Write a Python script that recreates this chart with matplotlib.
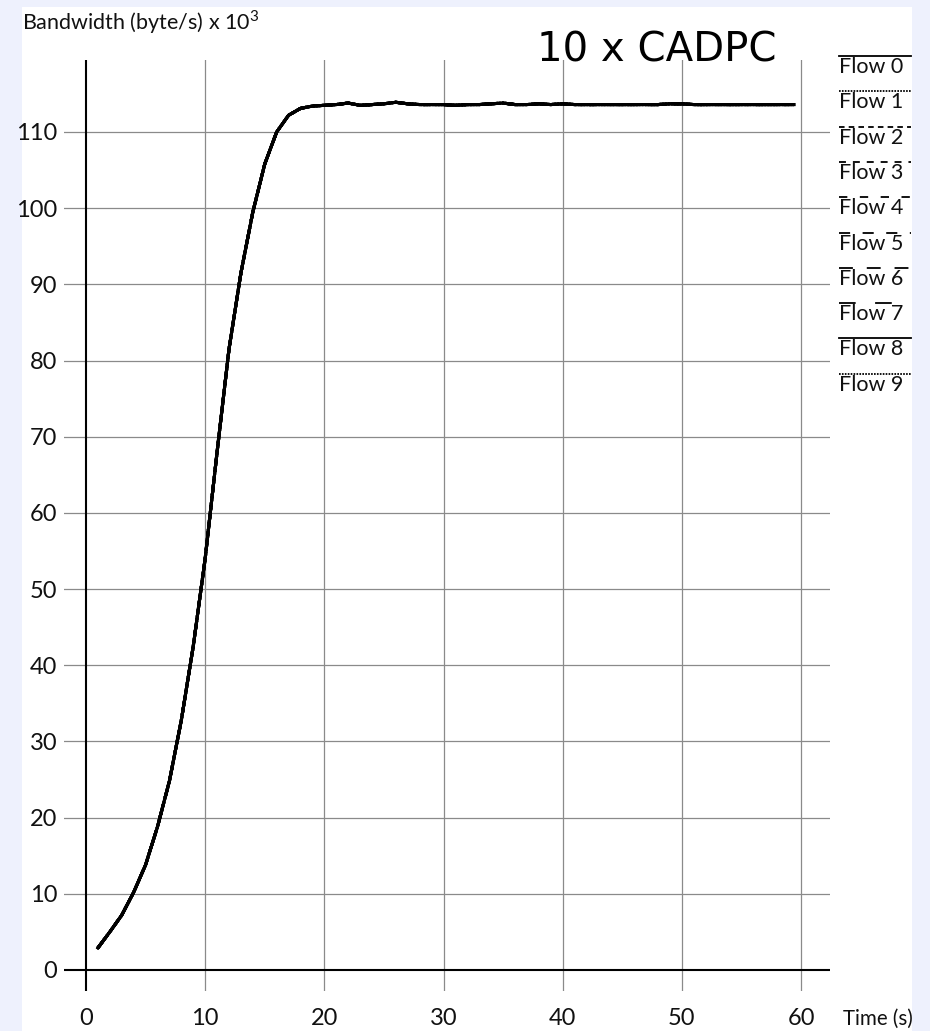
import matplotlib
matplotlib.use('Agg')
import matplotlib.pyplot as plt
from matplotlib.lines import Line2D
from matplotlib.patches import Rectangle

# data (all ten flows overlap on the same curve)
time_s = [1, 2, 3, 4, 5, 6, 7, 8, 9, 10, 11, 12, 13, 14, 15, 16, 17, 18, 19,
          20, 21, 22, 23, 24, 25, 26, 27, 28, 29, 30, 31, 32, 33, 34, 35, 36,
          37, 38, 39, 40, 41, 42, 43, 44, 45, 46, 47, 48, 49, 50, 51, 52, 53,
          54, 55, 56, 57, 58, 59, 59.4]
bandwidth_k = [2.9, 5.0, 7.2, 10.2, 13.8, 18.8, 24.8, 32.8, 42.5, 54.0, 68.0,
               81.5, 91.5, 99.5, 105.8, 110.0, 112.2, 113.1, 113.4,
               113.5, 113.6, 113.8, 113.5, 113.6, 113.7, 113.9, 113.7, 113.6,
               113.6, 113.6, 113.5, 113.6, 113.6, 113.7, 113.8, 113.6, 113.6,
               113.7, 113.6, 113.7, 113.6, 113.6, 113.6, 113.6, 113.6, 113.6,
               113.6, 113.6, 113.7, 113.7, 113.6, 113.6, 113.6, 113.6, 113.6,
               113.6, 113.6, 113.6, 113.6, 113.6]
flow_names = ['Flow %d' % i for i in range(10)]
flow_dashes = ['-', (0, (1.2, 0.9)), (0, (4, 3)), (0, (5, 5)), (0, (6, 9)),
               (0, (8, 9)), (0, (10, 10)), (0, (12, 14)), '-', (0, (1.2, 0.9))]
xticks = [0, 10, 20, 30, 40, 50, 60]
yticks = [0, 10, 20, 30, 40, 50, 60, 70, 80, 90, 100, 110]

W, H = 930, 1031
plt.rcParams['lines.scale_dashes'] = False
plt.rcParams['mathtext.fontset'] = 'custom'
plt.rcParams['mathtext.rm'] = 'Lato'
txt_font = dict(family='Lato', color='#111111')

fig = plt.figure(figsize=(W / 100, H / 100), dpi=100)
fig.patch.set_facecolor('#EEF1FD')
fig.add_artist(Rectangle((22 / W, 0), (912 - 22) / W, 1 - 7 / H,
                         transform=fig.transFigure, facecolor='white',
                         edgecolor='none', zorder=-10))

# axes box = extent of the grid lines in pixels
ax = fig.add_axes([64 / W, 1 - 991 / H, (830 - 64) / W, (991 - 60) / H])
ax.set_facecolor('none')
ax.set_xlim(-1.846, 62.43)
ax.set_ylim(-2.757, 119.45)
for s in ax.spines.values():
    s.set_visible(False)

for x in xticks[1:]:
    ax.axvline(x, color='#8a8a8a', lw=0.9, zorder=1)
for y in yticks[1:]:
    ax.axhline(y, color='#8a8a8a', lw=0.9, zorder=1)
ax.axvline(0, color='black', lw=1.5, zorder=2)
ax.axhline(0, color='black', lw=1.5, zorder=2)

for name, ls in zip(flow_names, flow_dashes):
    ax.plot(time_s, bandwidth_k, color='black', lw=2.2, linestyle=ls,
            zorder=3, label=name)

ax.set_xticks(xticks)
ax.set_yticks(yticks)
ax.tick_params(length=0, colors='#111111')
ax.tick_params(axis='x', pad=12)
ax.tick_params(axis='y', pad=5)
for lab in ax.get_xticklabels() + ax.get_yticklabels():
    lab.set_fontfamily('Lato')
    lab.set_fontsize(17)

fig.text(657 / W, 1 - 62 / H, '10 x CADPC', ha='center', va='baseline',
         fontsize=29, family='DejaVu Sans')
fig.text(22 / W, 1 - 30 / H, r'Bandwidth (byte/s) x 10$^3$', ha='left',
         va='baseline', fontsize=15.5, **txt_font)
fig.text(843 / W, 1 - 1025 / H, 'Time (s)', ha='left', va='baseline',
         fontsize=14.8, **txt_font)

# legend: line above each label, stacked on the right
for i, (name, ls) in enumerate(zip(flow_names, flow_dashes)):
    ly = 56 + i * 35.3
    fig.add_artist(Line2D([839 / W, 911 / W], [1 - ly / H, 1 - ly / H],
                          transform=fig.transFigure, color='black',
                          lw=1.3, linestyle=ls))
    fig.text(839 / W, 1 - (ly + 17) / H, name, ha='left', va='baseline',
             fontsize=15.5, **txt_font)

fig.savefig('out.png', dpi=100, facecolor=fig.get_facecolor())
